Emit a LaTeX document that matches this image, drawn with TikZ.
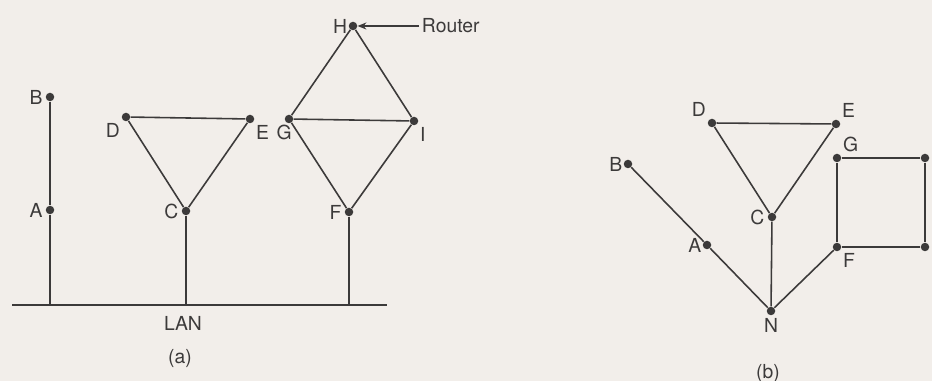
\documentclass[tikz,border=0pt]{standalone}
\usepackage{fontspec}
\setsansfont{TeX Gyre Heros}
\usetikzlibrary{arrows.meta}

\definecolor{paper}{RGB}{242,238,234}
\definecolor{ink}{RGB}{60,58,58}

\tikzset{
  host/.style={circle, fill=ink, inner sep=0pt, minimum size=0.17cm},
  lbl/.style={font=\sffamily\fontsize{11}{13}\selectfont, text=ink, inner sep=1.5pt},
  link/.style={draw=ink, line width=0.9pt}
}

\begin{document}
\begin{tikzpicture}[font=\sffamily\fontsize{11}{13}\selectfont]

  % ---------- paper ----------
  \fill[paper] (0,0) rectangle (18.64,7.62);
  \useasboundingbox (0,0) rectangle (18.64,7.62);

  % ---------- (a) hosts ----------
  \node[host, label={[lbl]left:B}]       (aB) at (1.00,5.68) {};
  \node[host, label={[lbl]left:A}]       (aA) at (1.00,3.42) {};
  \node[host, label={[lbl]below left:D}] (aD) at (2.52,5.28) {};
  \node[host, label={[lbl]below right:E}](aE) at (5.00,5.24) {};
  \node[host, label={[lbl]left:C}]       (aC) at (3.72,3.40) {};
  \node[host, label={[lbl,xshift=5pt]below left:G}] (aG) at (5.78,5.24) {};
  \node[host, label={[lbl]below right:I}](aI) at (8.28,5.20) {};
  \node[host, label={[lbl,inner sep=0.5pt]left:H}] (aH) at (7.06,7.10) {};
  \node[host, label={[lbl]left:F}]       (aF) at (6.98,3.38) {};
  \node[lbl, anchor=west] (router) at (8.38,7.10) {Router};

  % ---------- LAN bus ----------
  \coordinate (lanL) at (0.24,1.52);
  \coordinate (lanR) at (7.74,1.52);
  \coordinate (tapA) at (1.00,1.52);
  \coordinate (tapC) at (3.72,1.52);
  \coordinate (tapF) at (6.98,1.52);
  \node[lbl] (lan) at (3.66,1.16) {LAN};
  \node[lbl] (capA) at (3.60,0.44) {(a)};

  \draw[link] (lanL) -- (lanR);
  \draw[link] (aB) -- (aA) -- (tapA);
  \draw[link] (aD) -- (aE) -- (aC) -- (aD);
  \draw[link] (aC) -- (tapC);
  \draw[link] (aG) -- (aI) -- (aH) -- (aG);
  \draw[link] (aG) -- (aF) -- (aI);
  \draw[link] (aF) -- (tapF);
  \draw[link, -{Stealth[length=5pt,width=4pt]}] (router.west) -- (aH);

  % ---------- (b) hosts ----------
  \node[host, label={[lbl]above left:D}] (bD) at (14.24,5.16) {};
  \node[host, label={[lbl]above right:E}](bE) at (16.72,5.14) {};
  \node[host, label={[lbl]above right:G}](bG) at (16.74,4.46) {};
  \node[host, label={[lbl]above right:H}](bH) at (18.50,4.46) {};
  \node[host, label={[lbl]below right:F}](bF) at (16.74,2.68) {};
  \node[host, label={[lbl]below right:I}](bI) at (18.50,2.68) {};
  \node[host, label={[lbl,inner sep=0.5pt]left:B}] (bB) at (12.56,4.34) {};
  \node[host, label={[lbl]left:C}]       (bC) at (15.44,3.28) {};
  \node[host, label={[lbl,inner sep=0.5pt]left:A}] (bA) at (14.14,2.72) {};
  \node[host, label={[lbl]below:N}]      (bN) at (15.42,1.40) {};
  \node[lbl] (capB) at (15.36,0.14) {(b)};

  \draw[link] (bB) -- (bA) -- (bN);
  \draw[link] (bD) -- (bE) -- (bC) -- (bD);
  \draw[link] (bC) -- (bN) -- (bF);
  \draw[link] (bG) -- (bH) -- (bI) -- (bF) -- (bG);

\end{tikzpicture}
\end{document}
